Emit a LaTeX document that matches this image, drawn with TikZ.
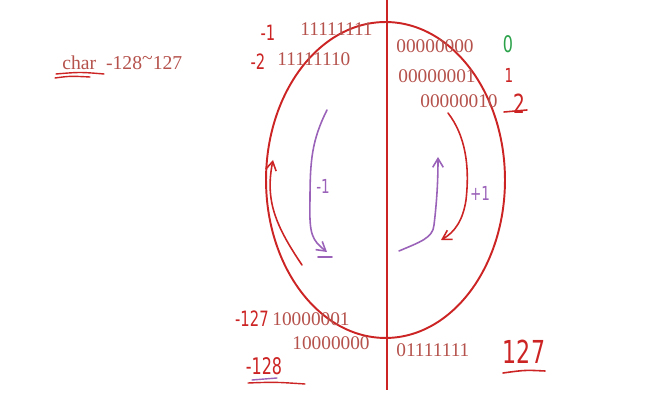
\documentclass[tikz,border=0pt]{standalone}
\usepackage{fontspec}
\setmainfont{Liberation Serif}
\newfontfamily\handfont{DejaVu Sans}[FakeStretch=0.7]
\usetikzlibrary{arrows.meta}

\definecolor{bitred}{HTML}{B5524C}
\definecolor{penred}{HTML}{CC2424}
\definecolor{penpurple}{HTML}{9A62B8}
\definecolor{pengreen}{HTML}{2BA24A}

\tikzset{
  bits/.style={text=bitred, inner sep=0pt, anchor=west, font=\fontsize{11}{12}\selectfont},
  hand/.style={inner sep=0pt, font=\handfont\fontsize{#1}{#1}\selectfont},
  pen/.style={line width=0.9pt, line cap=round, line join=round},
  tip/.style={-{Straight Barb[length=5pt,width=6pt]}}
}

\begin{document}
\begin{tikzpicture}[x=0.02cm,y=-0.02cm]
  \useasboundingbox (0,0) rectangle (646,404);

  % the ring of values
  \draw[penred, line width=1.1pt] (385.5,180) ellipse [x radius=2.39cm, y radius=3.16cm];
  \draw[penred, line width=1.1pt] (387,0) -- (387,390);

  % range
  \node[bits, font=\fontsize{11.2}{12}\selectfont] (range) at (62,63) {char\ \ -128\raisebox{3pt}{\textasciitilde}127};
  \draw[penred, pen, line width=0.8pt] (56,74) .. controls (80,72) .. (104,74);
  \draw[penred, pen, line width=0.8pt] (55,78) .. controls (70,76) .. (90,77);

  % negative side
  \node[bits] (m1bits) at (300,29) {11111111};
  \node[bits] (m2bits) at (277,59) {11111110};
  \node[bits] (m127bits) at (272,319) {10000001};
  \node[bits] (m128bits) at (292,343) {10000000};
  \node[hand=12, text=penred] (m1) at (268,33) {-1};
  \node[hand=12, text=penred] (m2) at (258,62) {-2};
  \node[hand=12, text=penred, anchor=east] (m127) at (269,319) {-127};
  \node[hand=13, text=penred] (m128) at (264,366) {-128};
  \draw[penpurple, pen, line width=0.8pt] (252,380) -- (277,378);
  \draw[penred, pen, line width=0.8pt] (248,383) .. controls (275,382) .. (305,384);

  % positive side
  \node[bits] (p0bits) at (396,46) {00000000};
  \node[bits] (p1bits) at (398,76) {00000001};
  \node[bits] (p2bits) at (420,101) {00000010};
  \node[bits] (p127bits) at (396,350) {01111111};
  \node[hand=13, text=pengreen] (p0) at (508,44) {0};
  \node[hand=11, text=penred] (p1) at (509,75) {1};
  \node[hand=15, text=penred] (p2) at (519,104) {2};
  \draw[penred, pen] (504,112) -- (527,110);
  \node[hand=18, text=penred] (p127) at (524,352) {127};
  \draw[penred, pen] (503,373) .. controls (525,370) .. (545,371);

  % counting down
  \draw[penpurple, pen, tip] (327,110) .. controls (312,140) and (310,160) .. (310,200)
    .. controls (309,235) and (312,240) .. (327,252);
  \draw[penpurple, pen] (318,257) -- (332,257);
  \node[hand=11, text=penpurple] (minus) at (323,186) {-1};
  \draw[penred, pen, tip] (302,265) .. controls (275,225) and (265,200) .. (273,160);

  % counting up
  \draw[penpurple, pen, tip] (399,251) .. controls (420,242) and (433,238) .. (434,225)
    .. controls (437,200) and (438,180) .. (438,157);
  \draw[penred, pen, tip] (448,113) .. controls (465,135) and (470,165) .. (466,200)
    .. controls (463,220) and (455,232) .. (441,240);
  \node[hand=11, text=penpurple] (plus) at (480,193) {+1};
\end{tikzpicture}
\end{document}
